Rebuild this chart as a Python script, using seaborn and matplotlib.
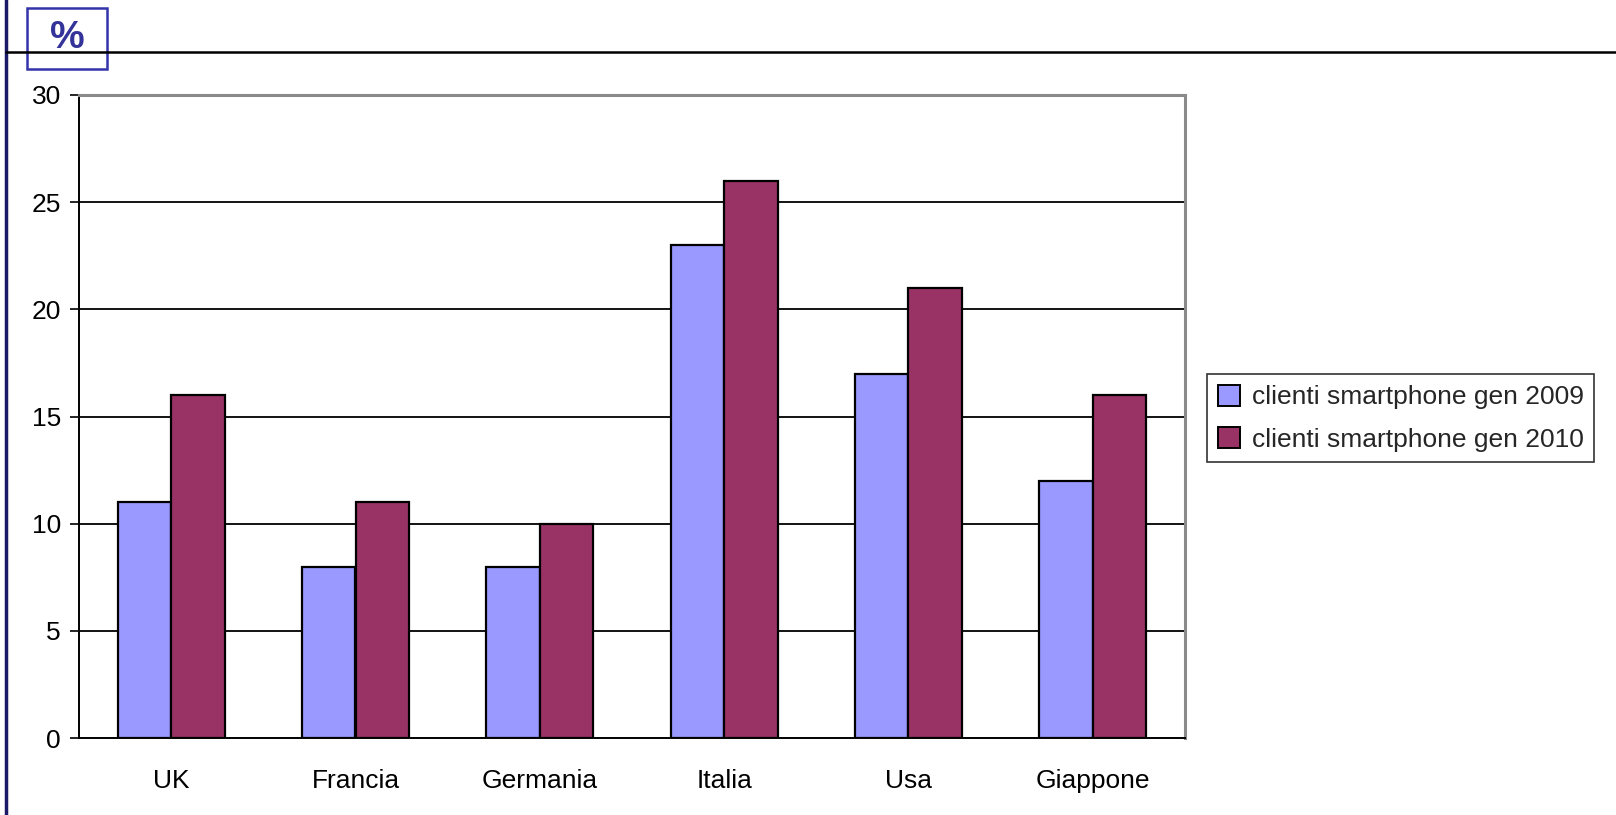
import matplotlib
matplotlib.use("Agg")
import matplotlib.pyplot as plt
from matplotlib.patches import Rectangle
from matplotlib.lines import Line2D
import seaborn as sns
import pandas as pd
import numpy as np

# Share of smartphone customers (%) by country, January 2009 vs January 2010
countries = ["UK", "Francia", "Germania", "Italia", "Usa", "Giappone"]
gen_2009 = [11, 8, 8, 23, 17, 12]
gen_2010 = [16, 11, 10, 26, 21, 16]
series_names = ["clienti smartphone gen 2009", "clienti smartphone gen 2010"]
yticks = [0, 5, 10, 15, 20, 25, 30]

df = pd.DataFrame({
    "paese": countries * 2,
    "valore": gen_2009 + gen_2010,
    "serie": [series_names[0]] * len(countries) + [series_names[1]] * len(countries),
})

sns.set_theme(style="white")
plt.rcParams["font.family"] = ["Liberation Sans", "DejaVu Sans"]

W, H = 1616, 815
fig = plt.figure(figsize=(W / 100, H / 100), dpi=100)

# plot area in pixel coordinates
left, right, top, bottom = 79, 1185, 95, 738
ax = fig.add_axes([left / W, 1 - bottom / H, (right - left) / W, (bottom - top) / H])

palette = {series_names[0]: "#9999FF", series_names[1]: "#993366"}
sns.barplot(data=df, x="paese", y="valore", hue="serie", order=countries,
            hue_order=series_names, palette=palette, width=0.58, gap=0,
            edgecolor="black", linewidth=1.6, saturation=1, ax=ax, zorder=3)

ax.set_xlim(-0.5, len(countries) - 0.5)
ax.set_ylim(0, 30)
ax.set_yticks(yticks)
ax.set_yticklabels([str(v) for v in yticks], fontsize=19, color="black")
ax.set_xlabel("")
ax.set_ylabel("")
ax.tick_params(axis="x", which="major", length=0, labelsize=19, pad=22, colors="black")
ax.set_xticks(np.arange(-0.5, len(countries), 1.0), minor=True)
ax.tick_params(axis="x", which="minor", length=6.5, width=1.2, direction="out", color="black")
ax.tick_params(axis="y", length=6.5, width=1.2, direction="out", color="black", pad=6.5, left=True)

# horizontal gridlines
for v in yticks[1:-1]:
    ax.axhline(v, color="black", linewidth=1.3, zorder=1)

for side in ["left", "bottom"]:
    ax.spines[side].set_color("black")
    ax.spines[side].set_linewidth(1.4)
for side in ["top", "right"]:
    ax.spines[side].set_color("#8a8a8a")
    ax.spines[side].set_linewidth(2.2)

# legend on the right of the plot area
ax.legend_.remove()
handles = [Rectangle((0, 0), 1, 1, facecolor=palette[n], edgecolor="black", linewidth=1.4)
           for n in series_names]
leg = fig.legend(handles, series_names, loc="upper left",
                 bbox_to_anchor=(1207 / W, 1 - 374 / H), fontsize=19,
                 frameon=True, fancybox=False, handlelength=0.85, handleheight=0.85,
                 handletextpad=0.45, borderpad=0.4, labelspacing=0.68,
                 borderaxespad=0)
leg.get_frame().set_edgecolor("black")
leg.get_frame().set_linewidth(1.2)

# slide frame: vertical rule, horizontal rule and unit box
fig.add_artist(Line2D([6 / W, 6 / W], [0, 1], transform=fig.transFigure,
                      color="#1a1a66", linewidth=2.5))
fig.add_artist(Line2D([6 / W, 1], [1 - 52 / H, 1 - 52 / H], transform=fig.transFigure,
                      color="black", linewidth=1.8))
fig.add_artist(Rectangle((27 / W, 1 - 69 / H), 80 / W, 61 / H, transform=fig.transFigure,
                         facecolor="white", edgecolor="#3333AA", linewidth=1.8))
fig.text(67 / W, 1 - 38 / H, "%", ha="center", va="center", fontsize=28,
         fontweight="bold", color="#333399")

fig.savefig("out.png", dpi=100, facecolor="white")
